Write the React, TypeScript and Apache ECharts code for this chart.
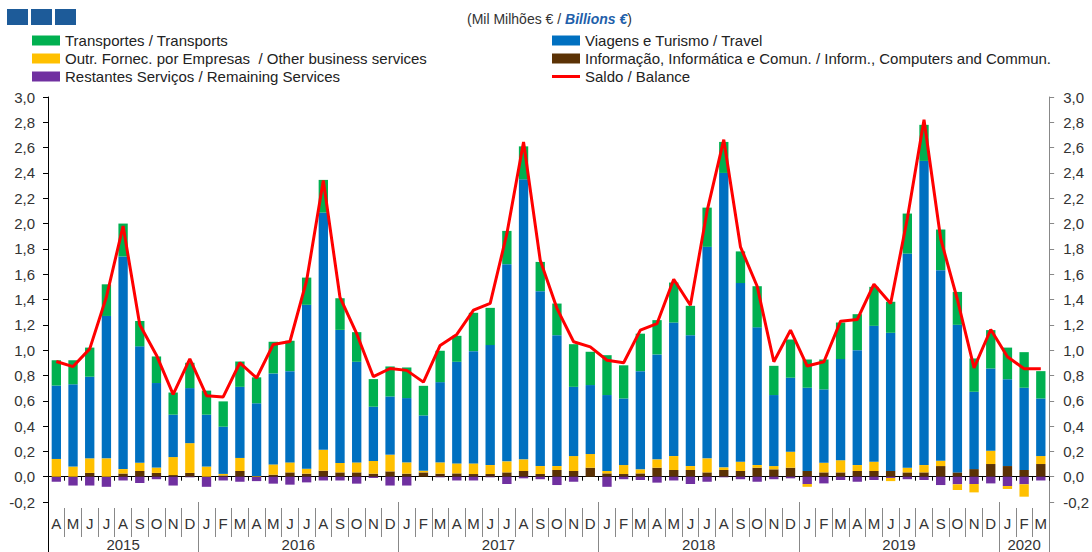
import React, { useEffect, useRef } from 'react';
import * as echarts from 'echarts';

const months = [
  'A', 'M', 'J', 'J', 'A', 'S', 'O', 'N', 'D',
  'J', 'F', 'M', 'A', 'M', 'J', 'J', 'A', 'S', 'O', 'N', 'D',
  'J', 'F', 'M', 'A', 'M', 'J', 'J', 'A', 'S', 'O', 'N', 'D',
  'J', 'F', 'M', 'A', 'M', 'J', 'J', 'A', 'S', 'O', 'N', 'D',
  'J', 'F', 'M', 'A', 'M', 'J', 'J', 'A', 'S', 'O', 'N', 'D',
  'J', 'F', 'M',
];
const yearLabels = ['2015', '2016', '2017', '2018', '2019', '2020'];
const monthsPerYear = [9, 12, 12, 12, 12, 3];

const yTickLabels = ['-0,2', '0,0', '0,2', '0,4', '0,6', '0,8', '1,0', '1,2', '1,4', '1,6', '1,8', '2,0', '2,2', '2,4', '2,6', '2,8', '3,0'];

const transport = [
  0.20, 0.19, 0.23, 0.25, 0.26, 0.20, 0.21, 0.175, 0.20,
  0.19, 0.20, 0.20, 0.205, 0.25, 0.24, 0.215, 0.258, 0.25, 0.234, 0.218, 0.237,
  0.242, 0.234, 0.248, 0.205, 0.303, 0.294, 0.263, 0.26, 0.231, 0.25, 0.337, 0.263,
  0.315, 0.262, 0.296, 0.271, 0.316, 0.232, 0.31, 0.245, 0.25, 0.325, 0.231, 0.302,
  0.223, 0.236, 0.289, 0.284, 0.308, 0.245, 0.316, 0.285, 0.321, 0.26, 0.263, 0.303,
  0.25, 0.281, 0.216,
];
const travel = [
  0.58, 0.65, 0.645, 1.125, 1.68, 0.92, 0.668, 0.335, 0.435,
  0.41, 0.373, 0.562, 0.575, 0.719, 0.721, 1.295, 1.874, 1.052, 0.795, 0.429, 0.46,
  0.508, 0.437, 0.634, 0.803, 0.887, 0.948, 1.558, 2.213, 1.382, 1.034, 0.547, 0.545,
  0.60, 0.526, 0.776, 0.829, 1.055, 1.034, 1.671, 2.326, 1.412, 1.088, 0.561, 0.585,
  0.658, 0.58, 0.799, 0.908, 1.074, 1.092, 1.692, 2.403, 1.506, 1.166, 0.611, 0.65,
  0.686, 0.65, 0.455,
];
const otherBusiness = [
  0.14, 0.08, 0.115, 0.145, 0.035, 0.065, 0.042, 0.142, 0.235,
  0.08, 0.012, 0.103, 0.005, 0.081, 0.079, 0.039, 0.166, 0.074, 0.079, 0.10, 0.132,
  0.089, 0.013, 0.089, 0.079, 0.084, 0.071, 0.087, 0.092, 0.063, 0.031, 0.118, 0.108,
  0.019, 0.071, 0.032, 0.066, 0.11, 0.031, 0.111, 0.021, 0.073, 0.021, 0.026, 0.126,
  -0.022, 0.076, 0.096, 0.047, 0.073, -0.025, 0.037, 0.058, 0.042, -0.045, -0.066, 0.105,
  -0.023, -0.098, 0.063,
];
const infoComm = [
  0.0, 0.0, 0.03, 0.0, 0.025, 0.045, 0.03, 0.013, 0.03,
  0.0, 0.01, 0.045, 0.0, 0.016, 0.034, 0.024, 0.047, 0.034, 0.034, 0.024, 0.042,
  0.024, 0.034, 0.024, 0.026, 0.021, 0.021, 0.034, 0.045, 0.021, 0.053, 0.045, 0.071,
  0.026, 0.021, 0.026, 0.071, 0.053, 0.053, 0.034, 0.053, 0.045, 0.071, 0.058, 0.071,
  0.045, 0.034, 0.034, 0.045, 0.045, 0.045, 0.034, 0.034, 0.084, 0.034, 0.06, 0.10,
  0.084, 0.053, 0.10,
];
const remaining = [
  -0.04, -0.07, -0.07, -0.08, -0.03, -0.05, -0.02, -0.07, -0.005,
  -0.08, -0.03, -0.04, -0.035, -0.055, -0.063, -0.045, -0.03, -0.03, -0.055, -0.01, -0.07,
  -0.07, 0.0, -0.005, -0.03, -0.03, -0.005, -0.058, -0.013, -0.02, -0.066, -0.04, 0.0,
  -0.08, -0.02, -0.026, -0.047, -0.03, -0.058, -0.04, -0.005, -0.02, -0.04, -0.02, -0.013,
  -0.058, -0.053, -0.026, -0.04, -0.026, -0.01, -0.02, -0.026, -0.066, -0.06, -0.058, -0.053,
  -0.074, -0.06, -0.03,
];
const balance = [
  0.91, 0.87, 1.01, 1.42, 1.98, 1.20, 0.96, 0.65, 0.93,
  0.64, 0.63, 0.90, 0.78, 1.045, 1.068, 1.55, 2.34, 1.416, 1.13, 0.79, 0.855,
  0.84, 0.747, 1.037, 1.124, 1.316, 1.37, 1.92, 2.645, 1.71, 1.33, 1.066, 1.026,
  0.92, 0.90, 1.158, 1.21, 1.56, 1.355, 2.10, 2.663, 1.816, 1.505, 0.908, 1.158,
  0.874, 0.908, 1.229, 1.242, 1.521, 1.368, 2.04, 2.82, 1.88, 1.40, 0.86, 1.163,
  0.947, 0.853, 0.853,
];

const NAMES = {
  transport: 'Transportes / Transports',
  travel: 'Viagens e Turismo / Travel',
  other: 'Outr. Fornec. por Empresas  / Other business services',
  info: 'Informação, Informática e Comun. / Inform., Computers and Commun.',
  remaining: 'Restantes Serviços / Remaining Services',
  balance: 'Saldo / Balance',
};

const COLORS = {
  transport: '#00B050',
  travel: '#0070C0',
  other: '#FFC000',
  info: '#5B3205',
  remaining: '#7030A0',
  balance: '#FF0000',
};

const FONT = '"Liberation Sans", Arial, sans-serif';

export default function App() {
  const ref = useRef<HTMLDivElement>(null);

  useEffect(() => {
    document.body.style.margin = '0';
    const chart = echarts.init(ref.current!, null, { renderer: 'svg' });

    const halfCats = Array.from({ length: months.length * 2 + 1 }, (_, i) => String(i));
    const yearCenter: Record<number, string> = {};
    const yearBounds = new Set<number>();
    let acc = 0;
    yearLabels.forEach((y, i) => {
      const n = monthsPerYear[i];
      yearCenter[acc * 2 + n] = y;
      acc += n;
      yearBounds.add(acc * 2);
    });

    const barBase = {
      type: 'bar' as const,
      stack: 'total',
      barWidth: '56%',
      xAxisIndex: 0,
      yAxisIndex: 0,
    };

    const axisLabelStyle = { color: '#333', fontFamily: FONT, fontSize: 15 };
    const legendText = { fontFamily: FONT, fontSize: 15, color: '#222' };
    const legendBase = {
      orient: 'vertical',
      itemGap: 3,
      itemWidth: 28,
      itemHeight: 10,
      selectedMode: false,
      textStyle: legendText,
    };

    const option: any = {
      animation: false,
      textStyle: { fontFamily: FONT },
      title: {
        text: '{a|(Mil Milhões € / }{b|Billions €}{a|)}',
        left: 462,
        top: 7,
        textStyle: {
          rich: {
            a: { fontFamily: FONT, fontSize: 14, color: '#333', fontWeight: 'normal' },
            b: { fontFamily: FONT, fontSize: 14, color: '#1F5FAA', fontWeight: 'bold', fontStyle: 'italic' },
          },
        },
      },
      graphic: [
        { type: 'rect', left: 7, top: 9, shape: { width: 21, height: 16 }, style: { fill: '#1D5B99' } },
        { type: 'rect', left: 31, top: 9, shape: { width: 21, height: 16 }, style: { fill: '#1D5B99' } },
        { type: 'rect', left: 55, top: 9, shape: { width: 21, height: 16 }, style: { fill: '#1D5B99' } },
      ],
      legend: [
        {
          ...legendBase,
          left: 27,
          top: 28,
          data: [
            { name: NAMES.transport, icon: 'rect' },
            { name: NAMES.other, icon: 'rect' },
            { name: NAMES.remaining, icon: 'rect' },
          ],
        },
        {
          ...legendBase,
          left: 547,
          top: 28,
          data: [
            { name: NAMES.travel, icon: 'rect' },
            { name: NAMES.info, icon: 'rect' },
          ],
        },
        {
          ...legendBase,
          itemHeight: 3,
          left: 547,
          top: 64,
          data: [{ name: NAMES.balance, icon: 'rect' }],
        },
      ],
      grid: { left: 48, right: 41, top: 97, bottom: 50, containLabel: false },
      xAxis: [
        {
          type: 'category',
          data: months,
          position: 'bottom',
          boundaryGap: true,
          axisLine: { show: true, onZero: true, lineStyle: { color: '#000', width: 1 } },
          axisTick: { show: true, length: 4, lineStyle: { color: '#000' } },
          axisLabel: { show: false },
          splitLine: { show: false },
        },
        {
          type: 'category',
          data: months,
          position: 'bottom',
          offset: 6,
          boundaryGap: true,
          axisLine: { show: false, onZero: false },
          axisTick: { show: true, length: 29, lineStyle: { color: '#888' } },
          axisLabel: { show: true, interval: 0, margin: 8, ...axisLabelStyle },
          splitLine: { show: false },
        },
        {
          type: 'category',
          data: halfCats,
          position: 'bottom',
          offset: 0,
          boundaryGap: false,
          axisLine: { show: false, onZero: false },
          axisTick: {
            show: true,
            length: 50,
            interval: (i: number) => yearBounds.has(i),
            lineStyle: { color: '#888' },
          },
          axisLabel: {
            show: true,
            interval: (i: number) => yearCenter[i] !== undefined,
            formatter: (_v: string, i: number) => yearCenter[i] ?? '',
            margin: 35,
            ...axisLabelStyle,
          },
          splitLine: { show: false },
        },
        {
          type: 'category',
          data: halfCats,
          position: 'bottom',
          offset: 0,
          boundaryGap: false,
          axisLine: { show: false, onZero: false },
          axisTick: {
            show: true,
            length: 50,
            interval: (i: number) => i === 0,
            lineStyle: { color: '#000' },
          },
          axisLabel: { show: false },
          splitLine: { show: false },
        },
      ],
      yAxis: [
        {
          type: 'value',
          position: 'left',
          min: -0.2,
          max: 3.0,
          interval: 0.2,
          axisLine: { show: true, lineStyle: { color: '#000' } },
          axisTick: { show: true, length: 5, lineStyle: { color: '#000' } },
          axisLabel: {
            margin: 13,
            ...axisLabelStyle,
            formatter: (v: number) => yTickLabels[Math.round((v + 0.2) / 0.2)],
          },
          splitLine: { show: false },
        },
        {
          type: 'value',
          position: 'right',
          min: -0.2,
          max: 3.0,
          interval: 0.2,
          axisLine: { show: true, lineStyle: { color: '#888' } },
          axisTick: { show: true, length: 5, lineStyle: { color: '#888' } },
          axisLabel: {
            margin: 14,
            ...axisLabelStyle,
            formatter: (v: number) => yTickLabels[Math.round((v + 0.2) / 0.2)],
          },
          splitLine: { show: false },
        },
      ],
      series: [
        { ...barBase, name: NAMES.info, data: infoComm, itemStyle: { color: COLORS.info } },
        { ...barBase, name: NAMES.remaining, data: remaining, itemStyle: { color: COLORS.remaining } },
        { ...barBase, name: NAMES.other, data: otherBusiness, itemStyle: { color: COLORS.other } },
        { ...barBase, name: NAMES.travel, data: travel, itemStyle: { color: COLORS.travel } },
        { ...barBase, name: NAMES.transport, data: transport, itemStyle: { color: COLORS.transport } },
        {
          type: 'line',
          name: NAMES.balance,
          data: balance,
          xAxisIndex: 0,
          yAxisIndex: 0,
          symbol: 'none',
          z: 5,
          lineStyle: { color: COLORS.balance, width: 3 },
          itemStyle: { color: COLORS.balance },
        },
      ],
    };

    chart.setOption(option);
    return () => chart.dispose();
  }, []);

  return <div ref={ref} style={{ width: 1092, height: 552 }} />;
}
